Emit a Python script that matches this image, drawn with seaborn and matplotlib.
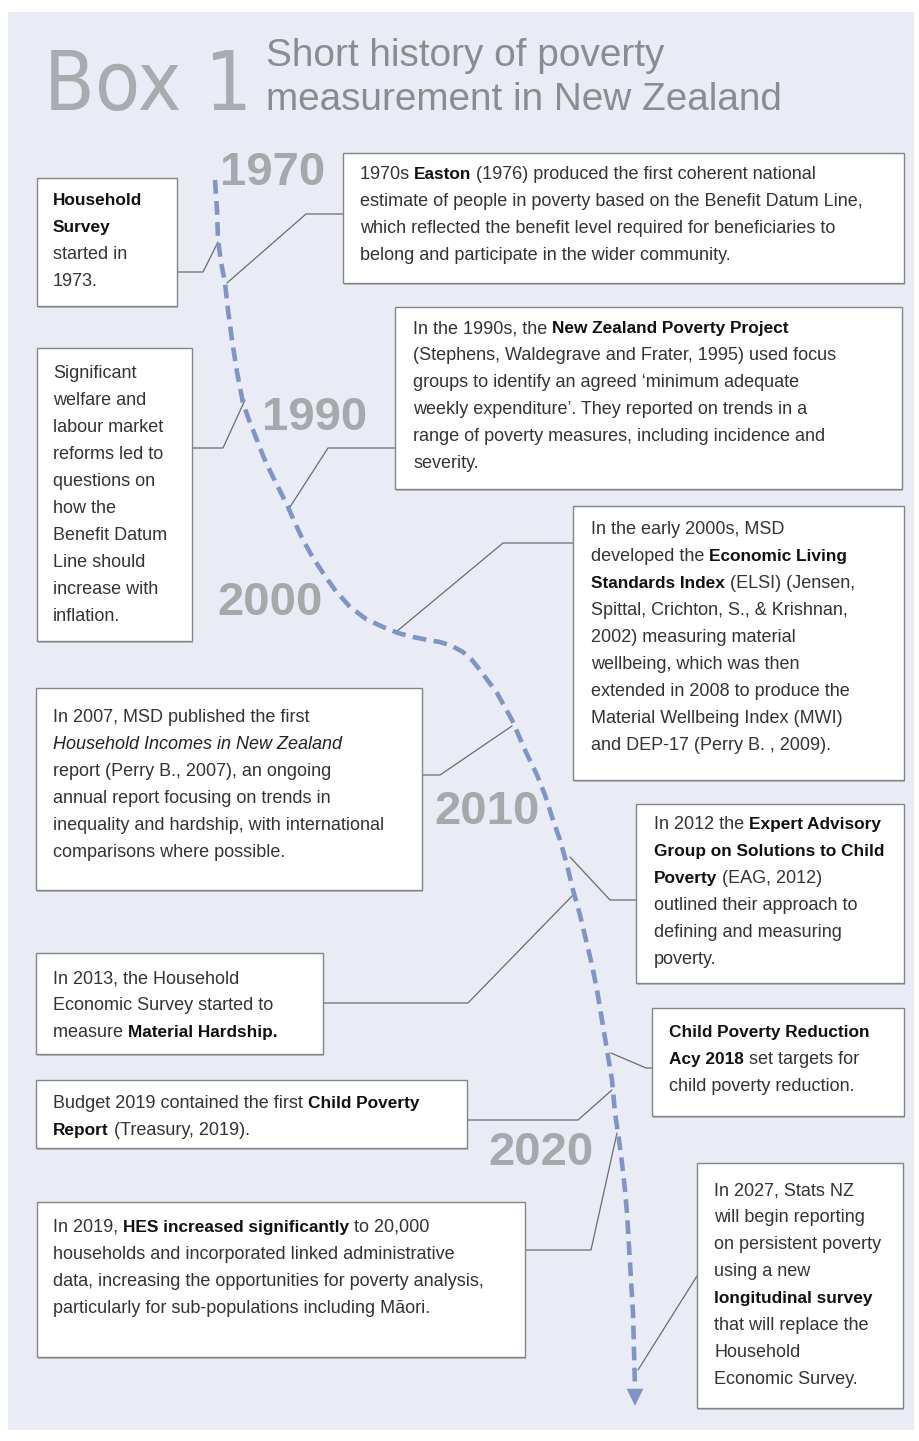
import re
import numpy as np
import pandas as pd
import seaborn as sns
import matplotlib.pyplot as plt
from matplotlib import font_manager
from matplotlib.patches import Rectangle

# ---------------- data ----------------
title_box = "Box 1"
title_lines = ["Short history of poverty", "measurement in New Zealand"]

years = ["1970", "1990", "2000", "2010", "2020"]

# timeline curve (pixel coords, y down)
timeline_x = [215, 217, 218, 221, 225, 228, 232, 237, 243, 249, 257, 264, 272, 280, 288,
              295, 303, 312, 323, 335, 350, 366, 383, 398, 413, 428, 440, 452, 463, 472,
              480, 497, 512, 525, 537, 545, 553, 560, 567, 573, 580, 586, 592, 597, 602,
              607, 612, 615, 619, 622, 625, 627, 630, 633, 635]
timeline_y = [180, 210, 240, 262, 283, 310, 340, 372, 403, 420, 440, 458, 475, 491, 507,
              523, 540, 556, 573, 590, 607, 619, 627, 633, 637, 640, 642, 646, 652, 660,
              670, 693, 720, 750, 775, 795, 820, 840, 865, 890, 915, 940, 965, 990, 1020,
              1050, 1080, 1113, 1140, 1163, 1190, 1213, 1263, 1313, 1388]

# note texts (**bold**, *italic*)
note_1973 = ["**Household**", "**Survey**", "started in", "1973."]
note_1970s = ["1970s **Easton** (1976) produced the first coherent national",
              "estimate of people in poverty based on the Benefit Datum Line,",
              "which reflected the benefit level required for beneficiaries to",
              "belong and participate in the wider community."]
note_reforms = ["Significant", "welfare and", "labour market", "reforms led to",
                "questions on", "how the", "Benefit Datum", "Line should",
                "increase with", "inflation."]
note_1990s = ["In the 1990s, the **New Zealand Poverty Project**",
              "(Stephens, Waldegrave and Frater, 1995) used focus",
              "groups to identify an agreed \u2018minimum adequate",
              "weekly expenditure\u2019. They reported on trends in a",
              "range of poverty measures, including incidence and",
              "severity."]
note_2000s = ["In the early 2000s, MSD",
              "developed the **Economic Living**",
              "**Standards Index** (ELSI) (Jensen,",
              "Spittal, Crichton, S., & Krishnan,",
              "2002) measuring material",
              "wellbeing, which was then",
              "extended in 2008 to produce the",
              "Material Wellbeing Index (MWI)",
              "and DEP-17 (Perry B. , 2009)."]
note_2007 = ["In 2007, MSD published the first",
             "*Household Incomes in New Zealand*",
             "report (Perry B., 2007), an ongoing",
             "annual report focusing on trends in",
             "inequality and hardship, with international",
             "comparisons where possible."]
note_2012 = ["In 2012 the **Expert Advisory**",
             "**Group on Solutions to Child**",
             "**Poverty** (EAG, 2012)",
             "outlined their approach to",
             "defining and measuring",
             "poverty."]
note_2013 = ["In 2013, the Household",
             "Economic Survey started to",
             "measure **Material Hardship.**"]
note_2018 = ["**Child Poverty Reduction**",
             "**Acy 2018** set targets for",
             "child poverty reduction."]
note_budget = ["Budget 2019 contained the first **Child Poverty**",
               "**Report** (Treasury, 2019)."]
note_hes = ["In 2019, **HES increased significantly** to 20,000",
            "households and incorporated linked administrative",
            "data, increasing the opportunities for poverty analysis,",
            "particularly for sub-populations including M\u0101ori."]
note_2027 = ["In 2027, Stats NZ", "will begin reporting", "on persistent poverty",
             "using a new", "**longitudinal survey**", "that will replace the",
             "Household", "Economic Survey."]

notes = [note_1973, note_1970s, note_reforms, note_1990s, note_2000s, note_2007,
         note_2012, note_2013, note_2018, note_budget, note_hes, note_2027]

# ---------------- layout ----------------
W, H = 919, 1441
year_pos = [(220, 173), (262, 418), (217, 603), (434, 812), (488, 1153)]

# box (x0, y0, x1, y1), text x, first line centre y
box_rect = [(37, 178, 177, 306), (343, 153, 904, 283), (37, 348, 192, 641),
            (395, 307, 902, 489), (573, 506, 904, 780), (36, 688, 422, 890),
            (636, 804, 904, 983), (36, 953, 323, 1054), (652, 1008, 904, 1116),
            (36, 1080, 467, 1148), (37, 1202, 525, 1357), (697, 1163, 903, 1408)]
text_start = [(53, 198), (360, 172), (53, 371), (413, 326), (591, 527), (53, 715),
              (654, 822), (53, 976), (669, 1030), (53, 1101), (53, 1225), (714, 1188)]
line_gap = 27

# connector polylines
connectors = [
    [(177, 272), (203, 272), (218, 242)],
    [(343, 214), (306, 214), (227, 283)],
    [(192, 448), (223, 448), (245, 400)],
    [(395, 448), (328, 448), (290, 507)],
    [(573, 543), (503, 543), (396, 632)],
    [(422, 775), (440, 775), (512, 726)],
    [(636, 900), (610, 900), (570, 857)],
    [(323, 1003), (468, 1003), (575, 893)],
    [(652, 1068), (646, 1068), (611, 1053)],
    [(467, 1120), (578, 1120), (612, 1090)],
    [(525, 1250), (591, 1250), (617, 1133)],
    [(697, 1276), (638, 1370)],
]

sns.set_style("white")
plt.rcParams['font.family'] = ['Liberation Sans', 'DejaVu Sans']

fig = plt.figure(figsize=(W / 100, H / 100), dpi=100, facecolor='white')
ax = fig.add_axes([0, 0, 1, 1])
ax.set_xlim(0, W)
ax.set_ylim(H, 0)
ax.axis('off')
renderer = fig.canvas.get_renderer()

ax.add_patch(Rectangle((8, 12), 906, 1418, facecolor='#e9ecf5', edgecolor='none', zorder=0))

# title: pick a condensed face if one is installed, then fit to width
cond = font_manager.FontProperties(family='DejaVu Sans', stretch='condensed', weight='light')
path = font_manager.findfont(cond, fallback_to_default=False)
if 'Condensed' in path:
    box_kw = dict(family='DejaVu Sans', fontstretch='condensed', fontweight='light')
else:
    box_kw = dict(family='Liberation Sans')
tb = ax.text(44, 110, title_box, fontsize=70, color='#a9abae', va='baseline',
             zorder=3, **box_kw)
wb = tb.get_window_extent(renderer).width
tb.set_fontsize(70 * 208 / wb)

ax.text(266, 66, title_lines[0], fontsize=27.9, color='#8a8c8f', va='baseline', zorder=3)
ax.text(266, 110, title_lines[1], fontsize=27.9, color='#8a8c8f', va='baseline', zorder=3)

# year labels
for lab, (x, y) in zip(years, year_pos):
    ax.text(x, y, lab, fontsize=34, fontweight='bold', color='#a7a8aa',
            va='center', ha='left', zorder=2)

# timeline
df_line = pd.DataFrame({"x": timeline_x, "y": timeline_y})
sns.lineplot(data=df_line, x="x", y="y", sort=False, estimator=None, ax=ax,
             color='#8094c5', lw=3.3, linestyle=(0, (3, 1.6)), zorder=4)
ax.annotate('', xy=(timeline_x[-1], 1406), xytext=(timeline_x[-1], 1386),
            arrowprops=dict(arrowstyle='-|>,head_width=0.3,head_length=0.62',
                            mutation_scale=20, color='#8094c5', lw=0,
                            shrinkA=0, shrinkB=0), zorder=4)

# connectors
rows = []
for i, pts in enumerate(connectors):
    for k, (x, y) in enumerate(pts):
        rows.append({"id": i, "order": k, "x": x, "y": y})
df_con = pd.DataFrame(rows)
sns.lineplot(data=df_con, x="x", y="y", units="id", estimator=None, sort=False,
             ax=ax, color='#6b6b6b', lw=0.9, zorder=3)

# boxes
for (x0, y0, x1, y1) in box_rect:
    ax.add_patch(Rectangle((x0 + 1, y0 + 1.5), x1 - x0, y1 - y0, facecolor='#b9bcc3',
                           edgecolor='none', zorder=4))
    ax.add_patch(Rectangle((x0, y0), x1 - x0, y1 - y0, facecolor='white',
                           edgecolor='#858585', lw=1.0, zorder=5))

BODY = 13.0
styles = {
    'n': dict(fontsize=BODY, color='#333333'),
    'b': dict(fontsize=12.4, color='#111111', fontweight='bold'),
    'i': dict(fontsize=BODY, color='#222222', fontstyle='italic'),
}


def ink_width(s, kw):
    t = ax.text(0, 0, s, **kw)
    w = t.get_window_extent(renderer).width
    t.remove()
    return w


def text_width(s, kw):
    # advance width: bracket with bars so side bearings and spaces cancel out
    return ink_width('|' + s + '|', kw) - ink_width('||', kw)


def parse(line):
    out = []
    for tok in re.split(r'(\*\*.+?\*\*|\*.+?\*)', line):
        if not tok:
            continue
        if tok.startswith('**'):
            out.append((tok[2:-2], 'b'))
        elif tok.startswith('*'):
            out.append((tok[1:-1], 'i'))
        else:
            out.append((tok, 'n'))
    return out


for lines, (tx, ty) in zip(notes, text_start):
    for j, line in enumerate(lines):
        x = tx
        yb = ty + j * line_gap + 7
        for seg, st in parse(line):
            body = seg.lstrip(' ')
            lead = len(seg) - len(body)
            if lead:
                x += text_width(' ' * lead, styles[st])
            ax.text(x, yb, body, va='baseline', ha='left', zorder=6, **styles[st])
            x += text_width(body, styles[st])

fig.savefig('out.png', dpi=100, facecolor='white')
